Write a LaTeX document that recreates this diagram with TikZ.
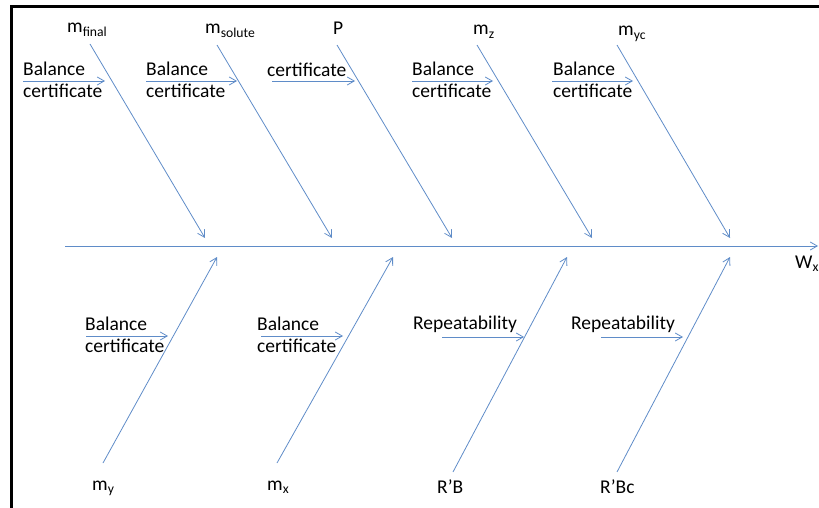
\documentclass[tikz,border=0pt]{standalone}
\usepackage{fontspec}
\setmainfont{Carlito}
\usetikzlibrary{arrows.meta}
\definecolor{boneblue}{RGB}{95,140,200}

\begin{document}
\begin{tikzpicture}[x=1pt,y=-1pt,
  bone/.style={boneblue, line width=0.8pt, -{Straight Barb[length=7pt,width=8pt]}},
  lbl/.style={anchor=base west, inner sep=0pt, font=\fontsize{19.5}{22}\selectfont, align=left},
]
  \useasboundingbox (0,0) rectangle (819,508);

  % Frame
  \draw[line width=3pt] (11.5,508) -- (11.5,7) -- (819,7);

  % Spine
  \coordinate (tail) at (65,246);
  \coordinate (head) at (818,246);
  \draw[bone] (tail) -- (head);
  \node[lbl] (wx) at (795,268) {W\textsubscript{x}};

  % Upper causes
  \node[lbl] (mfinal) at (67,33) {m\textsubscript{final}};
  \node[lbl] (msolute) at (205,34) {m\textsubscript{solute}};
  \node[lbl] (p) at (333,35) {P};
  \node[lbl] (mz) at (473,35) {m\textsubscript{z}};
  \node[lbl] (myc) at (618,36) {m\textsubscript{yc}};

  \coordinate (s1) at (90,44);   \coordinate (e1) at (205,238);
  \coordinate (s2) at (217,45);  \coordinate (e2) at (332,238);
  \coordinate (s3) at (337,45);  \coordinate (e3) at (452,238);
  \coordinate (s4) at (477,45);  \coordinate (e4) at (592,238);
  \coordinate (s5) at (617,45);  \coordinate (e5) at (730,238);
  \foreach \i in {1,...,5}
    \draw[bone] (s\i) -- (e\i);

  % Upper sub-causes (base is the last line)
  \node[lbl] (bc1) at (23,98) {Balance\\certificate};
  \node[lbl] (bc2) at (146,98) {Balance\\certificate};
  \node[lbl] (cert3) at (267,77) {certificate};
  \node[lbl] (bc4) at (412,98) {Balance\\certificate};
  \node[lbl] (bc5) at (553,98) {Balance\\certificate};
  \foreach \a/\b in {23/105,146/237,272/355,412/493,552/633}
    \draw[bone] (\a,81) -- (\b,81);

  % Lower causes
  \node[lbl] (my) at (92,490) {m\textsubscript{y}};
  \node[lbl] (mx) at (267,490) {m\textsubscript{x}};
  \node[lbl] (rb) at (437,493) {R’B};
  \node[lbl] (rbc) at (600,493) {R’Bc};

  \coordinate (t1) at (103,463); \coordinate (f1) at (217,257);
  \coordinate (t2) at (277,463); \coordinate (f2) at (393,257);
  \coordinate (t3) at (453,472); \coordinate (f3) at (567,257);
  \coordinate (t4) at (617,472); \coordinate (f4) at (730,257);
  \foreach \i in {1,...,4}
    \draw[bone] (t\i) -- (f\i);

  % Lower sub-causes
  \node[lbl] (bc6) at (85,352) {Balance\\certificate};
  \node[lbl] (bc7) at (257,352) {Balance\\certificate};
  \node[lbl] (rep1) at (413,329) {Repeatability};
  \node[lbl] (rep2) at (571,329) {Repeatability};
  \draw[bone] (86,336) -- (168,336);
  \draw[bone] (261,336) -- (343,336);
  \draw[bone] (442,337) -- (524,337);
  \draw[bone] (601,337) -- (683,337);
\end{tikzpicture}
\end{document}
